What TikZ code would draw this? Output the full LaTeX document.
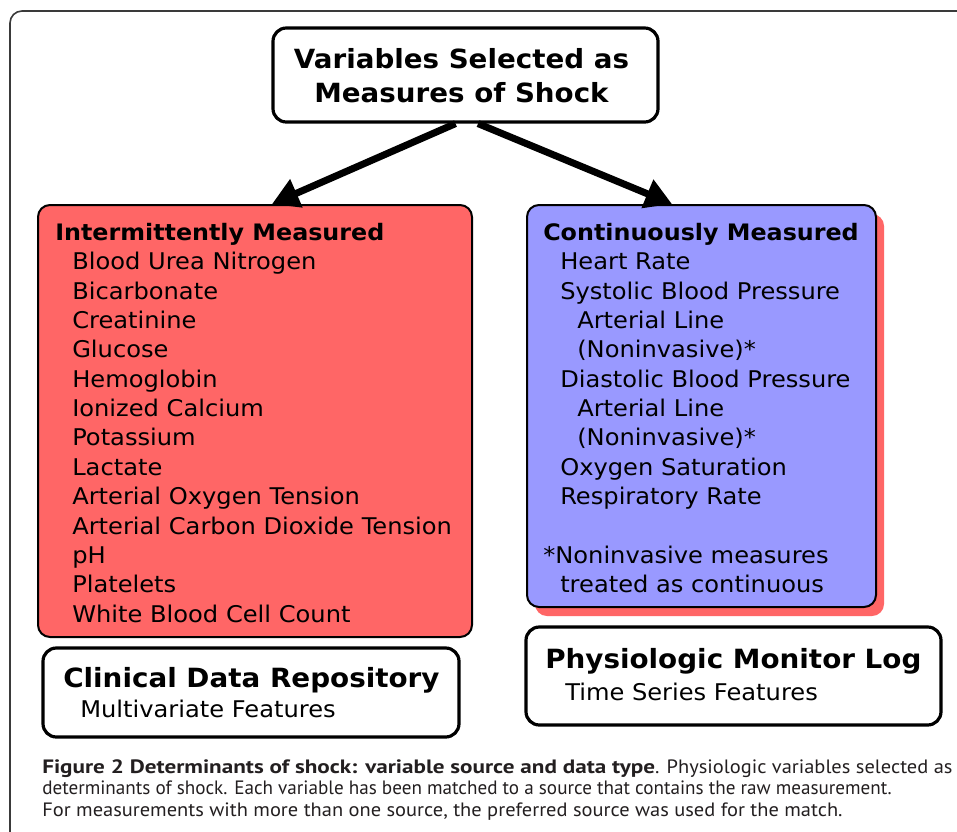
\documentclass[tikz,border=0pt]{standalone}
\usepackage{fontspec}
\setmainfont[FakeStretch=1.05]{DejaVu Sans}
\newfontfamily\capfont[FakeStretch=1.057]{PT Sans}
\newfontfamily\capnarrowfont[FakeStretch=0.99]{PT Sans}
\newfontfamily\capboldfont[FakeStretch=1.197]{PT Sans}
\usetikzlibrary{arrows.meta,shadows}
\definecolor{boxred}{HTML}{FF6666}
\definecolor{boxblue}{HTML}{9999FF}
\definecolor{framegray}{HTML}{3A3A3A}
\definecolor{captext}{HTML}{231F20}
\begin{document}
\begin{tikzpicture}[x=0.75pt,y=-0.75pt,
  box/.style={draw=black, rounded corners=9pt, line width=1.5pt, inner sep=0pt},
  srcbox/.style={draw=black, fill=white, rounded corners=10pt, line width=2.4pt, inner sep=0pt},
  item/.style={anchor=base west, inner sep=0pt, font=\fontsize{17.25pt}{22pt}\selectfont},
  head/.style={anchor=base west, inner sep=0pt, font=\fontsize{17pt}{22pt}\selectfont\bfseries},
  srchead/.style={anchor=base west, inner sep=0pt, font=\fontsize{19.85pt}{22pt}\selectfont\bfseries},
  titletext/.style={anchor=base, inner sep=0pt, font=\fontsize{19.8pt}{24pt}\selectfont\bfseries},
  captxt/.style={anchor=base west, inner sep=0pt, text=captext, font=\capfont\fontsize{14.5pt}{16pt}\selectfont},
  bigarrow/.style={line width=5.25pt, -{Triangle[length=20pt,width=22pt]}},
]
\useasboundingbox (0,0) rectangle (957,832);
\fill[white] (0,0) rectangle (957,832);
\draw[framegray, line width=1.2pt, rounded corners=9pt] (10,845) -- (10,11) -- (970,11);

% title
\node[srcbox, minimum width=288.75pt, minimum height=70.5pt] (title) at (465.5,75) {};
\node[titletext] (t1) at (461.5,68) {Variables Selected as};
\node[titletext] (t2) at (461.5,102) {Measures of Shock};

% category boxes
\node[box, fill=boxred, minimum width=325.5pt, minimum height=324pt] (inter) at (255,421) {};
\node[box, fill=boxblue, minimum width=261.75pt, minimum height=301.5pt,
  general shadow={draw=none, fill=boxred, shadow xshift=6pt, shadow yshift=-6.75pt}] (cont) at (701.5,406) {};

% arrows
\draw[bigarrow] ([xshift=-7.5pt]title.south) -- ([xshift=12.75pt]inter.north);
\draw[bigarrow] ([xshift=9.4pt]title.south) -- ([xshift=-22.1pt]cont.north);

% red list
\node[head] (rh) at (55,240.5) {Intermittently Measured};
\foreach \t [count=\i] in {Blood Urea Nitrogen, Bicarbonate, Creatinine, Glucose, Hemoglobin,
  Ionized Calcium, Potassium, Lactate, Arterial Oxygen Tension, Arterial Carbon Dioxide Tension,
  pH, Platelets, White Blood Cell Count}
  \node[item] (r\i) at (72,240.5+29.35*\i) {\t};

% blue list
\node[head] (bh) at (543,240.5) {Continuously Measured};
\foreach \xx/\k/\t in {560/1/{Heart Rate}, 560/2/{Systolic Blood Pressure}, 577/3/{Arterial Line},
  577/4/{(Noninvasive)*}, 560/5/{Diastolic Blood Pressure}, 577/6/{Arterial Line},
  577/7/{(Noninvasive)*}, 560/8/{Oxygen Saturation}, 560/9/{Respiratory Rate},
  543/11/{*Noninvasive measures}, 560/12/{treated as continuous}}
  \node[item] (b\k) at (\xx,240.5+29.35*\k) {\t};

% source boxes
\node[srcbox, minimum width=312pt, minimum height=66.75pt] (cdr) at (251,692.5) {};
\node[srchead] (cdrt) at (63,687) {Clinical Data Repository};
\node[item] (cdrs) at (80,717.5) {Multivariate Features};

\node[srcbox, minimum width=311.25pt, minimum height=73.5pt] (pml) at (733.5,676) {};
\node[srchead] (pmlt) at (545,668) {Physiologic Monitor Log};
\node[item] (pmls) at (565,700.5) {Time Series Features};

% caption
\node[captxt] (cap1) at (42,773) {{\capboldfont\bfseries Figure 2 Determinants of shock: variable source and data type}. Physiologic variables selected as};
\node[captxt, font=\capnarrowfont\fontsize{14.5pt}{16pt}\selectfont] (cap2) at (42,794.5) {determinants of shock. Each variable has been matched to a source that contains the raw measurement.};
\node[captxt] (cap3) at (42,816) {For measurements with more than one source, the preferred source was used for the match.};
\end{tikzpicture}
\end{document}
